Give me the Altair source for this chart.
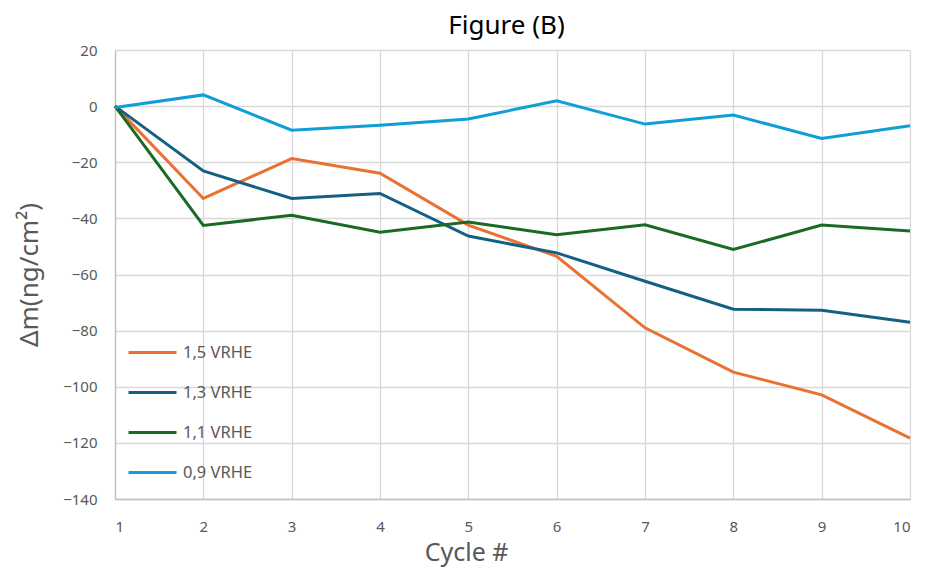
import altair as alt
import pandas as pd

cycles = [1, 2, 3, 4, 5, 6, 7, 8, 9, 10]
s15 = [0, -32.9, -18.7, -23.9, -42.4, -53.5, -79.0, -94.8, -102.9, -118.3]
s13 = [0, -23.1, -32.9, -31.1, -46.3, -52.3, -62.4, -72.4, -72.7, -77.0]
s11 = [0, -42.5, -38.9, -44.9, -41.3, -45.8, -42.3, -51.1, -42.4, -44.5]
s09 = [-0.5, 4.0, -8.6, -6.8, -4.6, 1.9, -6.4, -3.2, -11.5, -7.0]
series_names = ["1,5 VRHE", "1,3 VRHE", "1,1 VRHE", "0,9 VRHE"]
series_colors = ["#E97132", "#156082", "#196B24", "#0F9ED5"]
y_ticks = [-140, -120, -100, -80, -60, -40, -20, 0, 20]

rows = []
for name, vals in zip(series_names, [s15, s13, s11, s09]):
    for c, v in zip(cycles, vals):
        rows.append({"cycle": c, "dm": v, "series": name})
df = pd.DataFrame(rows)

FONT = "Noto Sans"
GREY = "#595959"

chart = alt.Chart(df).mark_line(strokeWidth=3, strokeJoin="miter").encode(
    x=alt.X("cycle:Q",
            scale=alt.Scale(domain=[1, 10], nice=False, zero=False),
            axis=alt.Axis(values=cycles, title="Cycle #", format="d",
                          titleX=351, titleY=61, titleBaseline="alphabetic",
                          titleFontSize=25)),
    y=alt.Y("dm:Q",
            scale=alt.Scale(domain=[-140, 20], nice=False, zero=False),
            axis=alt.Axis(values=y_ticks, title="Δm(ng/cm²)", titlePadding=20,
                          titleFontSize=26)),
    color=alt.Color("series:N",
                    scale=alt.Scale(domain=series_names, range=series_colors),
                    sort=series_names,
                    legend=alt.Legend(title=None, orient="none", legendX=12, legendY=277,
                                      symbolType="stroke", symbolSize=2304,
                                      symbolStrokeWidth=3, rowPadding=6,
                                      labelFontSize=16.5, labelColor=GREY, labelFont=FONT,
                                      labelOffset=5)),
    order=alt.Order("cycle:Q"),
).properties(
    width=795,
    height=449,
    title=alt.TitleParams("Figure (B)", fontSize=26, font=FONT, fontWeight="normal",
                          color="#000000", offset=4, dx=-6),
    autosize=alt.AutoSizeParams(type="none"),
    padding={"left": 107, "top": 42, "right": 25, "bottom": 70},
).configure_view(
    stroke=None
).configure_axis(
    grid=True, gridColor="#d9d9d9", gridWidth=1.3,
    domainColor="#bfbfbf", domainWidth=1.3,
    ticks=False,
    labelFont=FONT, labelFontSize=15, labelColor=GREY,
    titleFont=FONT, titleColor=GREY, titleFontWeight="normal",
).configure_axisX(
    labelPadding=20
).configure_axisY(
    labelPadding=18
)

chart.save("out.html", embed_options={"renderer": "svg", "actions": False})
